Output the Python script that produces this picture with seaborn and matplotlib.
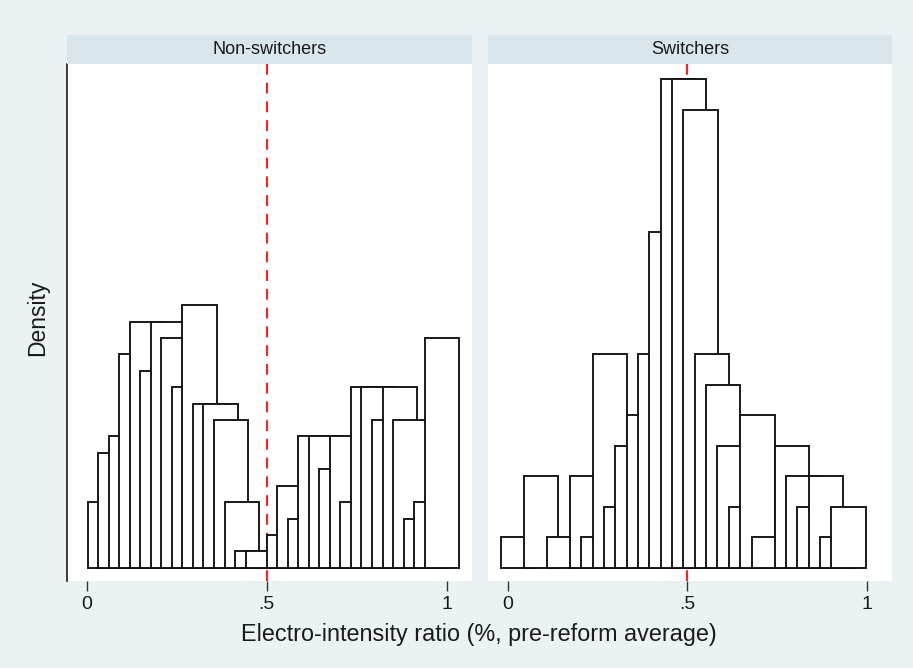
import numpy as np
import pandas as pd
import matplotlib
matplotlib.use("Agg")
import matplotlib.pyplot as plt
import seaborn as sns

nonsw_x = [0.050, 0.079, 0.109, 0.138, 0.167, 0.196, 0.226, 0.255, 0.284, 0.313,
           0.343, 0.372, 0.401, 0.431, 0.460, 0.489, 0.548, 0.577, 0.606, 0.635,
           0.665, 0.694, 0.723, 0.752, 0.782, 0.811, 0.840, 0.870, 0.899, 0.928,
           0.957, 0.987]
nonsw_n = [4, 7, 8, 13, 15, 12, 15, 14, 11, 16,
           10, 10, 9, 4, 1, 1, 2, 5, 3, 8,
           8, 6, 8, 4, 11, 11, 9, 11, 9, 3,
           4, 14]
sw_x = [0.030, 0.093, 0.157, 0.220, 0.252, 0.284, 0.315, 0.347, 0.379, 0.410,
        0.442, 0.474, 0.505, 0.537, 0.569, 0.600, 0.632, 0.664, 0.695, 0.727,
        0.791, 0.822, 0.854, 0.886, 0.917, 0.949]
sw_n = [1, 3, 1, 3, 1, 7, 2, 4, 5, 7,
        11, 16, 16, 15, 7, 6, 4, 2, 5, 1,
        4, 3, 2, 3, 1, 2]
bin_w = {"Non-switchers": 0.02927, "Switchers": 0.03169}
panels = ["Non-switchers", "Switchers"]

df = pd.concat([
    pd.DataFrame({"group": "Non-switchers", "x": nonsw_x, "n": nonsw_n}),
    pd.DataFrame({"group": "Switchers", "x": sw_x, "n": sw_n}),
])
df["density"] = df["n"] / df.groupby("group")["n"].transform("sum") / df["group"].map(bin_w)

BG = "#eaf2f3"
STRIP = "#d9e6eb"

sns.set_theme(style="white")
plt.rcParams["font.family"] = ["Arial", "Liberation Sans", "DejaVu Sans"]


def draw_bars(data, **kws):
    ax = plt.gca()
    ax.axvline(0.5, color="#ff2020", lw=1.5, ls=(0, (5.2, 3.8)), zorder=1)
    for _, r in data.iterrows():
        ax.bar(r["x"], r["density"], width=0.096, align="center",
               facecolor="white", edgecolor="#111111", linewidth=1.35, zorder=2)


g = sns.FacetGrid(df, col="group", col_order=panels, sharey=True, sharex=True)
g.map_dataframe(draw_bars)
fig = g.figure
fig.set_size_inches(9.13, 6.68)
fig.set_dpi(100)
fig.patch.set_facecolor(BG)

W, H = 913, 668
boxes = [(67, 472), (488, 892)]
top, bottom = 64, 581
for ax, (x0, x1), name in zip(g.axes.flat, boxes, panels):
    ax.set_position([x0 / W, (H - bottom) / H, (x1 - x0) / W, (bottom - top) / H])
    ax.set_facecolor("white")
    ax.set_xlim(-0.055, 1.07)
    ax.set_ylim(-0.104, 3.944)
    ax.set_title("")
    ax.set_xlabel("")
    ax.set_ylabel("")
    ax.set_xticks([0, 0.5, 1])
    ax.set_xticklabels(["0", ".5", "1"])
    ax.set_yticks([])
    ax.tick_params(axis="x", bottom=True, length=7, width=1, color="#333333",
                   labelsize=14, pad=4, labelcolor="#1a1a1a")
    for s in ["top", "right", "bottom", "left"]:
        ax.spines[s].set_visible(False)
    # header strip
    fig.patches.append(plt.Rectangle((x0 / W, (H - top) / H), (x1 - x0) / W, 29 / H,
                                     transform=fig.transFigure, facecolor=STRIP,
                                     edgecolor="none", zorder=0))
    fig.text((x0 + x1) / 2 / W, (H - top + 15) / H, name, ha="center", va="center",
             fontsize=13, color="#1a1a1a")

left_ax = g.axes.flat[0]
left_ax.spines["left"].set_visible(True)
left_ax.spines["left"].set_color("#1a1a1a")
left_ax.spines["left"].set_linewidth(1.2)

fig.text(38 / W, (H - 318) / H, "Density", rotation=90, ha="center", va="center",
         fontsize=16.5, color="#1a1a1a")
fig.text(479 / W, (H - 635) / H, "Electro-intensity ratio (%, pre-reform average)",
         ha="center", va="center", fontsize=16.8, color="#1a1a1a")

fig.savefig("out.png", dpi=100, facecolor=BG)
